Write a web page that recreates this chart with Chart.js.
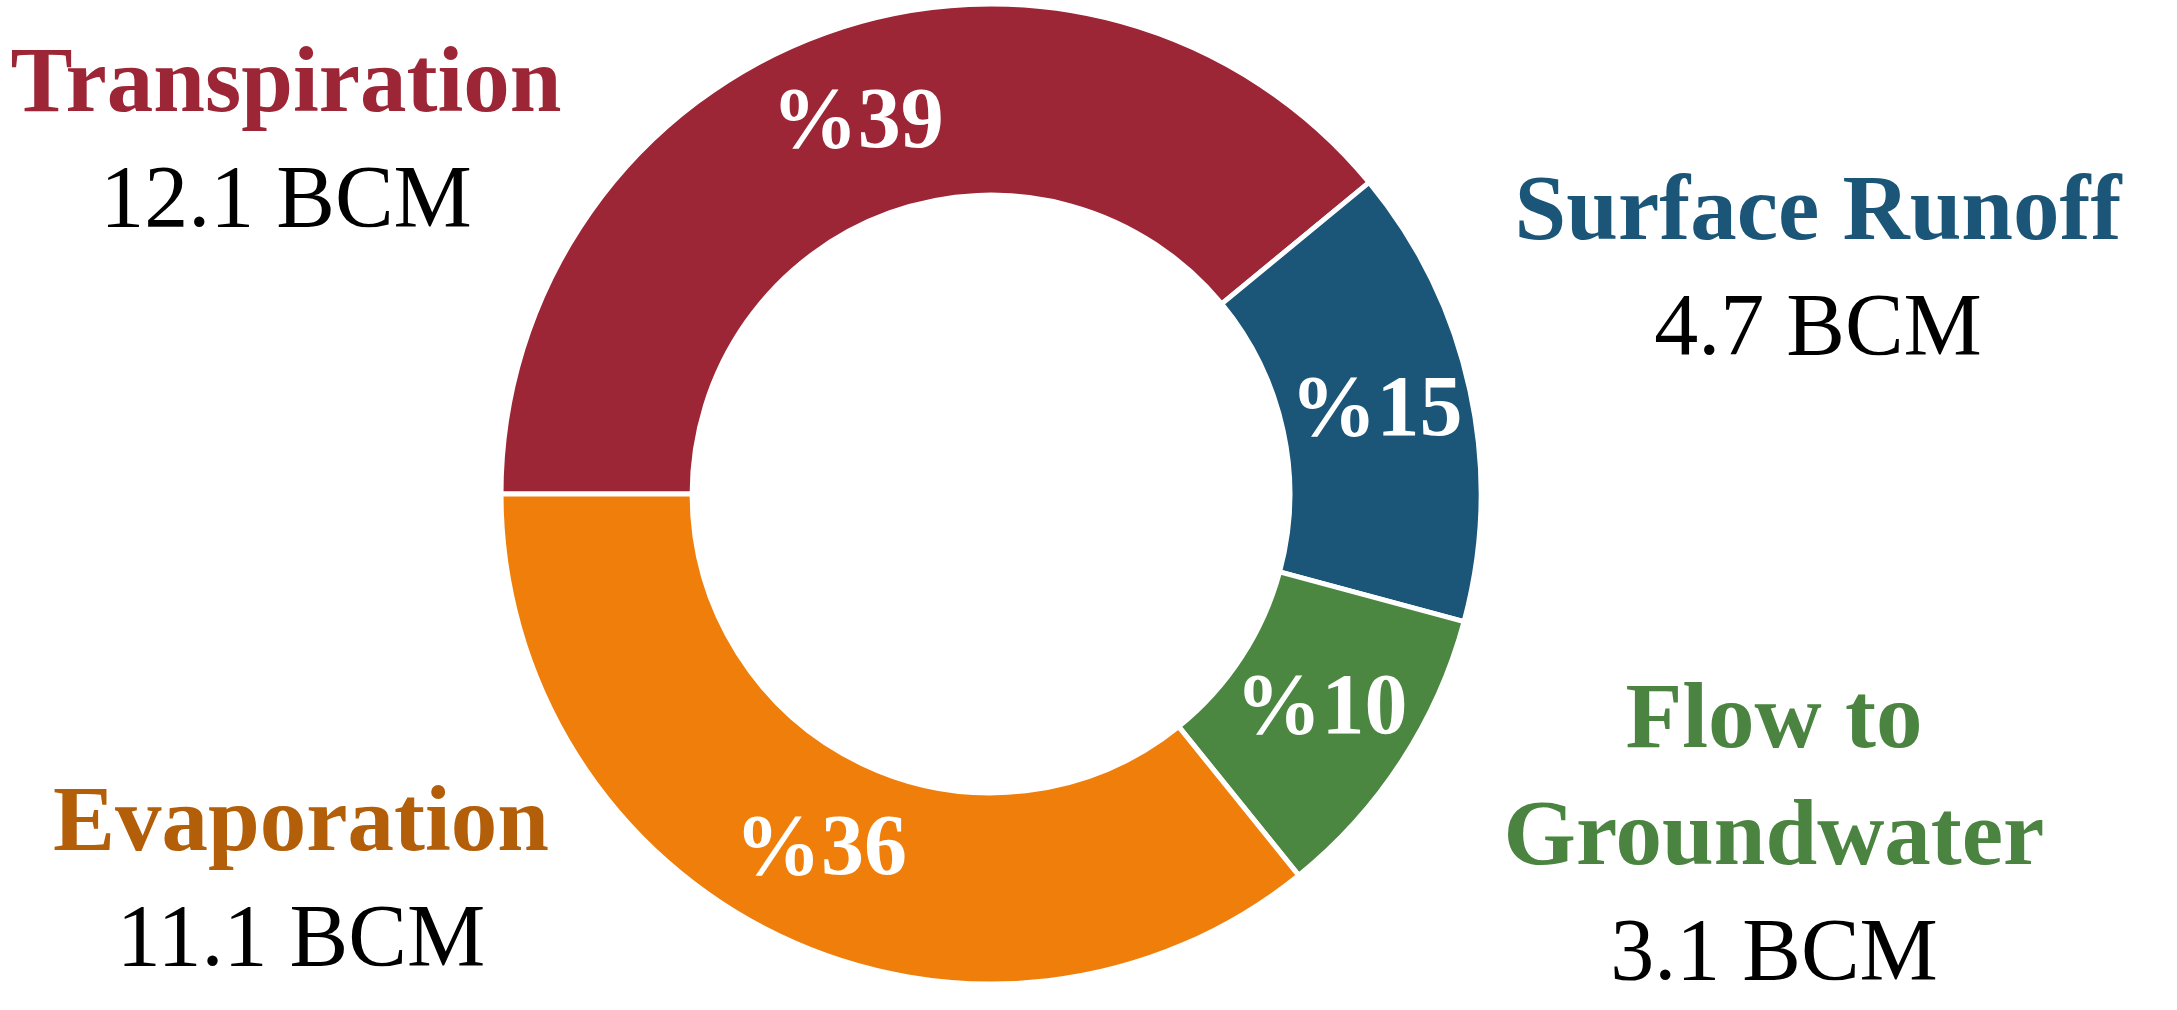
<!DOCTYPE html>
<html>
<head>
<meta charset="utf-8">
<script src="https://cdn.jsdelivr.net/npm/chart.js@4.4.1/dist/chart.umd.min.js"></script>
<style>
  html, body { margin: 0; padding: 0; background: #fff; overflow: hidden; }
  body { width: 2177px; height: 1010px; position: relative; font-family: "Liberation Serif", serif; }
  #wrap { position: absolute; left: 500px; top: 3px; width: 982px; height: 982px; }
  .lbl { position: absolute; text-align: center; white-space: nowrap; transform: translateX(-50%); }
  .lbl .t { font-weight: bold; font-size: 93px; line-height: 117px; display: block; }
  .lbl .v { font-size: 88px; line-height: 117px; color: #000; display: block; }
  .pct { position: absolute; color: #fff; font-weight: bold; font-size: 86px; line-height: 86px;
         white-space: nowrap; transform: translate(-50%, -50%); }
</style>
</head>
<body>
<div id="wrap"><canvas id="grafico" width="982" height="982"></canvas></div>
<div id="labels"></div>

<script>
// dados do gráfico (BCM)
const categorias = ['Transpiration', 'Surface Runoff', 'Flow to Groundwater', 'Evaporation']
const valores = [12.1, 4.7, 3.1, 11.1]
const titulos = [['Transpiration'], ['Surface Runoff'], ['Flow to', 'Groundwater'], ['Evaporation']]
const cores = ['#9c2536', '#1b5679', '#4c8742', '#ef7f0a']
const coresTitulo = ['#9c2536', '#1b5679', '#4a8440', '#b35e08']

// onde fica cada bloco de texto externo (centro x, topo y)
const posTitulos = [
  { x: 286, y: 21 },
  { x: 1818, y: 149 },
  { x: 1774, y: 657 },
  { x: 301, y: 760 }
]

const total = valores.reduce((a, b) => a + b, 0)

const grafico = new Chart(document.getElementById('grafico'), {
  type: 'doughnut',
  data: {
    labels: categorias,
    datasets: [{
      data: valores,
      backgroundColor: cores,
      borderColor: '#ffffff',
      borderWidth: 5
    }]
  },
  options: {
    responsive: false,
    animation: false,
    rotation: -90,
    radius: 490,
    cutout: '61%',
    layout: { padding: 0 },
    plugins: {
      legend: { display: false },
      tooltip: { enabled: false }
    }
  }
})

// percentuais dentro das fatias
const meta = grafico.getDatasetMeta(0)
const wrap = document.getElementById('wrap')
meta.data.forEach((arc, i) => {
  const p = arc.tooltipPosition()
  const d = document.createElement('div')
  d.className = 'pct'
  d.style.left = p.x + 'px'
  d.style.top = (p.y - 5) + 'px'
  d.textContent = '%' + Math.round(valores[i] / total * 100)
  wrap.appendChild(d)
})

// rótulos externos
const labels = document.getElementById('labels')
titulos.forEach((linhas, i) => {
  const d = document.createElement('div')
  d.className = 'lbl'
  d.style.left = posTitulos[i].x + 'px'
  d.style.top = posTitulos[i].y + 'px'
  linhas.forEach(l => {
    const s = document.createElement('span')
    s.className = 't'
    s.style.color = coresTitulo[i]
    s.textContent = l
    d.appendChild(s)
  })
  const v = document.createElement('span')
  v.className = 'v'
  v.textContent = valores[i].toFixed(1) + ' BCM'
  d.appendChild(v)
  labels.appendChild(d)
})
</script>
</body>
</html>
